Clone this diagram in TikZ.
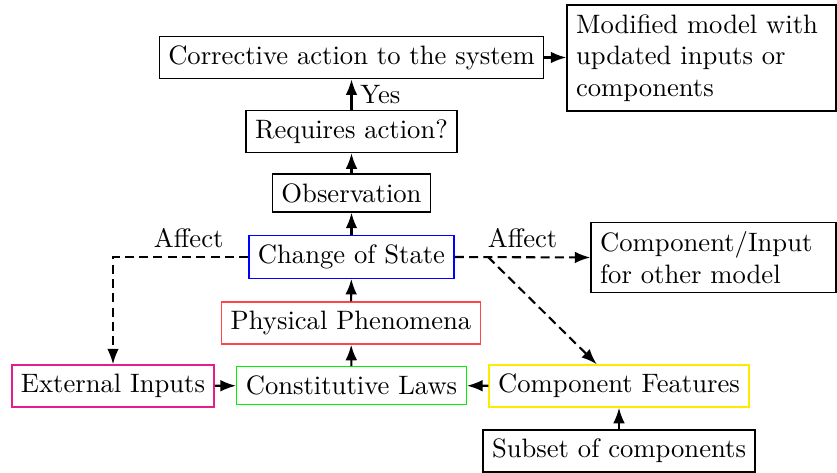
\documentclass[tikz,border=0pt]{standalone}
\usetikzlibrary{calc,arrows.meta}
\definecolor{cblue}{RGB}{0,0,255}
\definecolor{cred}{RGB}{255,70,70}
\definecolor{cgreen}{RGB}{0,240,0}
\definecolor{cmag}{RGB}{230,30,140}
\definecolor{cyel}{RGB}{255,235,0}
\def\u{0.385}
\tikzset{
  box/.style={draw, line width=0.5pt, inner sep=3.5pt, font=\fontsize{10.25}{12.2}\selectfont},
  arr/.style={thick, -{Latex[length=6pt,width=4.5pt]}},
  darr/.style={thick, dash pattern=on 3.5pt off 2pt, -{Latex[length=6pt,width=4.5pt]}},
  lbl/.style={font=\fontsize{10.25}{12.2}\selectfont},
}
\begin{document}
\begin{tikzpicture}[x=0.385pt,y=-0.385pt]
\useasboundingbox (0,0) rectangle (837,473);
\node[box, minimum width=383*\u pt, minimum height=39*\u pt] (corr) at (351.5,57.5) {Corrective action to the system};
\node[box, minimum width=269*\u pt, minimum height=106*\u pt, align=left, text width=269*\u pt-7pt] (mod) at (701.5,58) {Modified model with\\updated inputs or\\components};
\node[box, minimum width=209*\u pt, minimum height=41*\u pt] (req) at (351.5,131.5) {Requires action?};
\node[box, minimum width=157*\u pt, minimum height=38*\u pt] (obs) at (351.5,193) {Observation};
\node[box, draw=cblue, minimum width=205*\u pt, minimum height=42*\u pt] (chg) at (351.5,257) {Change of State};
\node[box, draw=cred, minimum width=258*\u pt, minimum height=42*\u pt] (phys) at (351,323) {Physical Phenomena};
\node[box, draw=cgreen, minimum width=229*\u pt, minimum height=37*\u pt] (const) at (351.5,385.5) {Constitutive Laws};
\node[box, draw=cmag, minimum width=202*\u pt, minimum height=42*\u pt] (ext) at (113,386) {External Inputs};
\node[box, draw=cyel, minimum width=260*\u pt, minimum height=42*\u pt] (feat) at (619,386) {Component Features};
\node[box, minimum width=272*\u pt, minimum height=42*\u pt] (sub) at (619,451) {Subset of components};
\node[box, minimum width=245*\u pt, minimum height=69*\u pt, align=left, text width=245*\u pt-7pt] (ci) at (713.5,257.5) {Component/Input\\for other model};
\coordinate (br) at (488,257);
\draw[arr] (ext) -- (const);
\draw[arr] (feat) -- (const);
\draw[arr] (sub) -- (feat);
\draw[arr] (const) -- (phys);
\draw[arr] (phys) -- (chg);
\draw[arr] (chg) -- (obs);
\draw[arr] (obs) -- (req);
\draw[arr] (req) -- node[right, inner sep=3pt, lbl] {Yes} (corr);
\draw[arr] (corr.east) -- (corr.east -| mod.west);
\draw[darr] (chg.west) -| node[pos=0.22, above, lbl] {Affect} (ext.north);
\draw[darr] (chg.east) -- node[midway, above, lbl] {Affect} (ci.west);
\draw[darr] (br) -- ($(feat.north west)!0.415!(feat.north east)$);
\end{tikzpicture}
\end{document}
